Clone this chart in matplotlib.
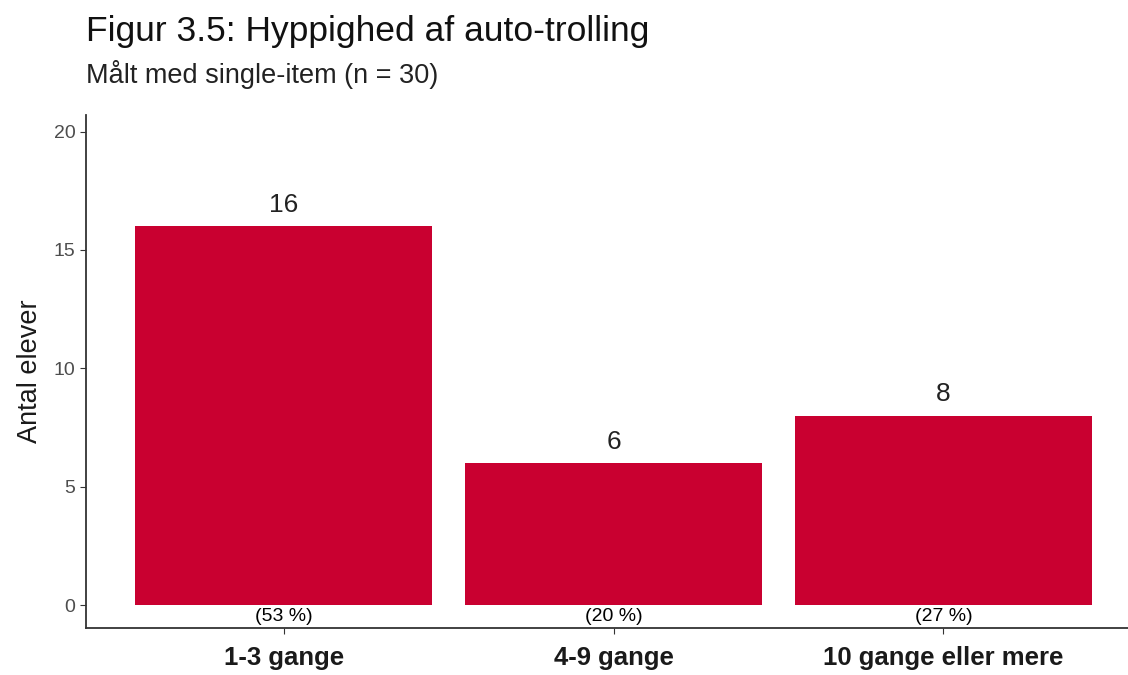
import matplotlib.pyplot as plt

plt.rcParams['font.family'] = ['Liberation Sans', 'DejaVu Sans']

categories = ['1-3 gange', '4-9 gange', '10 gange eller mere']
counts = [16, 6, 8]
percents = ['(53 %)', '(20 %)', '(27 %)']

fig = plt.figure(figsize=(11.28, 6.75), dpi=100)
ax = fig.add_axes([0.0762, 0.0696, 0.9238, 0.76])

x = range(len(categories))
bars = ax.bar(x, counts, width=0.9, color='#C90030')

for i, v in enumerate(counts):
    ax.text(i, v + 0.4, str(v), ha='center', va='bottom', fontsize=19, color='#222222')
    ax.text(i, -0.5, percents[i], ha='center', va='center', fontsize=14, color='black')

ax.set_xlim(-0.6, 2.56)
ax.set_ylim(-0.97, 20.7)
ax.set_yticks([0, 5, 10, 15, 20])
ax.set_xticks(list(x))
ax.set_xticklabels(categories, fontsize=18.5, fontweight='bold', color='#1a1a1a')
ax.tick_params(axis='y', labelsize=14, labelcolor='#4d4d4d', color='#333333', length=4)
ax.tick_params(axis='x', color='#333333', length=4, pad=9)
ax.set_ylabel('Antal elever', fontsize=19.5, color='#1a1a1a', labelpad=8)

for s in ['top', 'right']:
    ax.spines[s].set_visible(False)
for s in ['left', 'bottom']:
    ax.spines[s].set_color('#333333')
    ax.spines[s].set_linewidth(1.3)

fig.text(0.0762, 0.94, 'Figur 3.5: Hyppighed af auto-trolling', fontsize=25.5, color='#111111', va='baseline')
fig.text(0.0762, 0.877, 'Målt med single-item (n = 30)', fontsize=19.5, color='#222222', va='baseline')

plt.savefig('out.png', dpi=100)
